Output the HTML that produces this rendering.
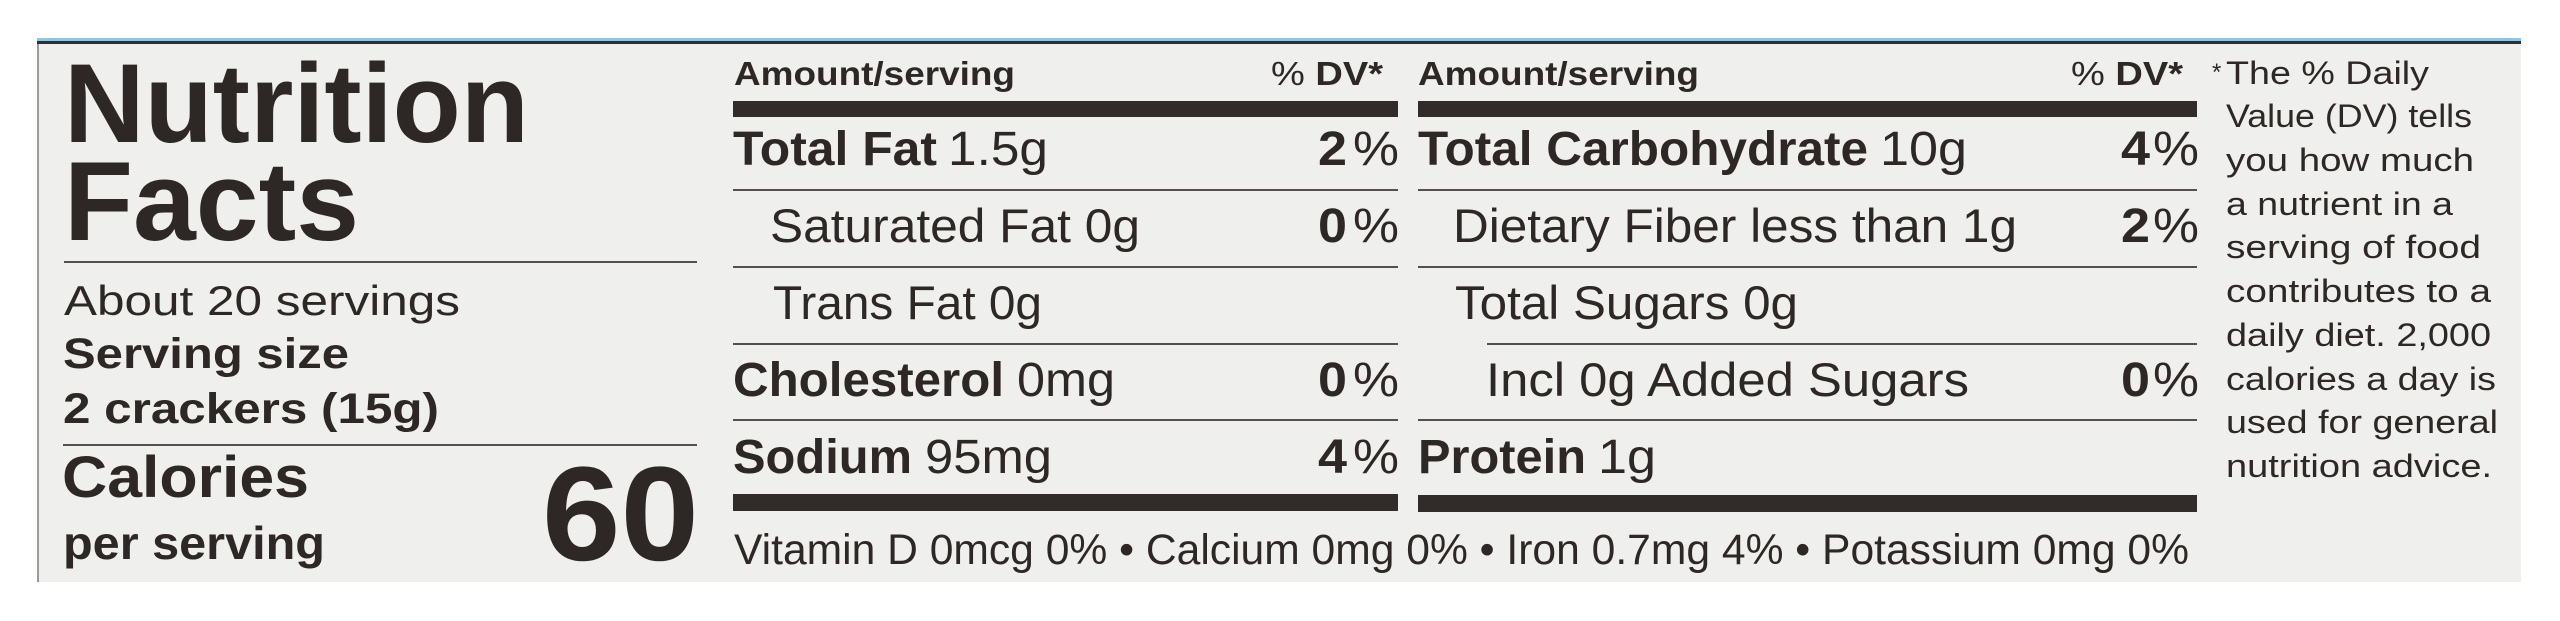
<!DOCTYPE html>
<html>
<head>
<meta charset="utf-8">
<style>
  html, body { margin:0; padding:0; background:#ffffff; }
  body { width:2560px; height:621px; overflow:hidden; }
  svg { display:block; }
  text { font-family: "Liberation Sans", Arial, sans-serif; fill:#2d2825; }
  .b { font-weight:bold; }
</style>
</head>
<body>
<svg width="2560" height="621" viewBox="0 0 2560 621" xmlns="http://www.w3.org/2000/svg">
  <!-- background -->
  <rect x="0" y="0" width="2560" height="621" fill="#ffffff"/>
  <!-- panel -->
  <rect x="38" y="43" width="2483" height="539" fill="#efefed"/>
  <rect x="37" y="43" width="2" height="539" fill="#9a9a9a"/>
  <!-- top border -->
  <rect x="37" y="38" width="2484" height="3" fill="#8cc8ea"/>
  <rect x="37" y="41" width="2484" height="3" fill="#2a303a"/>

  <!-- LEFT COLUMN -->
  <text class="b" x="64" y="142" font-size="112" textLength="465" lengthAdjust="spacingAndGlyphs">Nutrition</text>
  <text class="b" x="64" y="240" font-size="112" textLength="295" lengthAdjust="spacingAndGlyphs">Facts</text>
  <rect x="64" y="261" width="633" height="2" fill="#55504d"/>
  <text x="64" y="315" font-size="42" textLength="396" lengthAdjust="spacingAndGlyphs">About 20 servings</text>
  <text class="b" x="63" y="368" font-size="43" textLength="286" lengthAdjust="spacingAndGlyphs">Serving size</text>
  <text class="b" x="63" y="423" font-size="43" textLength="376" lengthAdjust="spacingAndGlyphs">2 crackers (15g)</text>
  <rect x="63" y="444" width="634" height="2" fill="#55504d"/>
  <text class="b" x="62" y="497" font-size="58" textLength="247" lengthAdjust="spacingAndGlyphs">Calories</text>
  <text class="b" x="63" y="559" font-size="46" textLength="262" lengthAdjust="spacingAndGlyphs">per serving</text>
  <text class="b" x="542" y="560" font-size="134" textLength="157" lengthAdjust="spacingAndGlyphs">60</text>

  <!-- COLUMN 1 -->
  <text x="734" y="85" font-size="33" class="b" textLength="281" lengthAdjust="spacingAndGlyphs">Amount/serving</text>
  <text x="1271" y="85" font-size="33" textLength="112" lengthAdjust="spacingAndGlyphs"><tspan>% </tspan><tspan font-weight="bold">DV*</tspan></text>
  <rect x="733" y="101" width="665" height="16" fill="#312c29"/>

  <text class="b" x="733" y="165" font-size="48" textLength="204" lengthAdjust="spacingAndGlyphs">Total Fat</text>
  <text x="948" y="165" font-size="48" textLength="100" lengthAdjust="spacingAndGlyphs">1.5g</text>
  <text class="b" x="1318" y="165" font-size="48" textLength="29" lengthAdjust="spacingAndGlyphs">2</text>
  <text x="1353" y="165" font-size="48" textLength="46" lengthAdjust="spacingAndGlyphs">%</text>
  <rect x="733" y="189" width="665" height="2" fill="#55504d"/>

  <text x="770" y="242" font-size="47" textLength="370" lengthAdjust="spacingAndGlyphs">Saturated Fat 0g</text>
  <text class="b" x="1318" y="242" font-size="48" textLength="29" lengthAdjust="spacingAndGlyphs">0</text>
  <text x="1353" y="242" font-size="48" textLength="46" lengthAdjust="spacingAndGlyphs">%</text>
  <rect x="733" y="266" width="665" height="2" fill="#55504d"/>

  <text x="773" y="319" font-size="47" textLength="269" lengthAdjust="spacingAndGlyphs">Trans Fat 0g</text>
  <rect x="733" y="343" width="665" height="2" fill="#55504d"/>

  <text class="b" x="733" y="396" font-size="48" textLength="271" lengthAdjust="spacingAndGlyphs">Cholesterol</text>
  <text x="1017" y="396" font-size="48" textLength="98" lengthAdjust="spacingAndGlyphs">0mg</text>
  <text class="b" x="1318" y="396" font-size="48" textLength="29" lengthAdjust="spacingAndGlyphs">0</text>
  <text x="1353" y="396" font-size="48" textLength="46" lengthAdjust="spacingAndGlyphs">%</text>
  <rect x="733" y="419" width="665" height="2" fill="#55504d"/>

  <text class="b" x="733" y="473" font-size="48" textLength="179" lengthAdjust="spacingAndGlyphs">Sodium</text>
  <text x="925" y="473" font-size="48" textLength="127" lengthAdjust="spacingAndGlyphs">95mg</text>
  <text class="b" x="1318" y="473" font-size="48" textLength="29" lengthAdjust="spacingAndGlyphs">4</text>
  <text x="1353" y="473" font-size="48" textLength="46" lengthAdjust="spacingAndGlyphs">%</text>
  <rect x="733" y="494" width="665" height="17" fill="#312c29"/>

  <!-- COLUMN 2 -->
  <text x="1418" y="85" font-size="33" class="b" textLength="281" lengthAdjust="spacingAndGlyphs">Amount/serving</text>
  <text x="2071" y="85" font-size="33" textLength="112" lengthAdjust="spacingAndGlyphs"><tspan>% </tspan><tspan font-weight="bold">DV*</tspan></text>
  <rect x="1418" y="101" width="779" height="16" fill="#312c29"/>

  <text class="b" x="1418" y="165" font-size="48" textLength="450" lengthAdjust="spacingAndGlyphs">Total Carbohydrate</text>
  <text x="1880" y="165" font-size="48" textLength="87" lengthAdjust="spacingAndGlyphs">10g</text>
  <text class="b" x="2121" y="165" font-size="48" textLength="29" lengthAdjust="spacingAndGlyphs">4</text>
  <text x="2153" y="165" font-size="48" textLength="46" lengthAdjust="spacingAndGlyphs">%</text>
  <rect x="1418" y="189" width="779" height="2" fill="#55504d"/>

  <text x="1453" y="242" font-size="47" textLength="564" lengthAdjust="spacingAndGlyphs">Dietary Fiber less than 1g</text>
  <text class="b" x="2121" y="242" font-size="48" textLength="29" lengthAdjust="spacingAndGlyphs">2</text>
  <text x="2153" y="242" font-size="48" textLength="46" lengthAdjust="spacingAndGlyphs">%</text>
  <rect x="1418" y="266" width="779" height="2" fill="#55504d"/>

  <text x="1455" y="319" font-size="47" textLength="343" lengthAdjust="spacingAndGlyphs">Total Sugars 0g</text>
  <rect x="1487" y="343" width="710" height="2" fill="#55504d"/>

  <text x="1486" y="396" font-size="47" textLength="483" lengthAdjust="spacingAndGlyphs">Incl 0g Added Sugars</text>
  <text class="b" x="2121" y="396" font-size="48" textLength="29" lengthAdjust="spacingAndGlyphs">0</text>
  <text x="2153" y="396" font-size="48" textLength="46" lengthAdjust="spacingAndGlyphs">%</text>
  <rect x="1418" y="419" width="779" height="2" fill="#55504d"/>

  <text class="b" x="1418" y="473" font-size="48" textLength="168" lengthAdjust="spacingAndGlyphs">Protein</text>
  <text x="1598" y="473" font-size="48" textLength="58" lengthAdjust="spacingAndGlyphs">1g</text>
  <rect x="1418" y="495" width="779" height="17" fill="#312c29"/>

  <!-- vitamins line -->
  <text x="734" y="564" font-size="43" textLength="1455" lengthAdjust="spacingAndGlyphs">Vitamin D 0mcg 0% • Calcium 0mg 0% • Iron 0.7mg 4% • Potassium 0mg 0%</text>

  <!-- FOOTNOTE -->
  <text x="2212" y="80" font-size="24">*</text>
  <text x="2226" y="84" font-size="32" textLength="203" lengthAdjust="spacingAndGlyphs">The % Daily</text>
  <text x="2226" y="127" font-size="32" textLength="246" lengthAdjust="spacingAndGlyphs">Value (DV) tells</text>
  <text x="2226" y="171" font-size="32" textLength="248" lengthAdjust="spacingAndGlyphs">you how much</text>
  <text x="2226" y="215" font-size="32" textLength="227" lengthAdjust="spacingAndGlyphs">a nutrient in a</text>
  <text x="2226" y="258" font-size="32" textLength="255" lengthAdjust="spacingAndGlyphs">serving of food</text>
  <text x="2226" y="302" font-size="32" textLength="265" lengthAdjust="spacingAndGlyphs">contributes to a</text>
  <text x="2226" y="346" font-size="32" textLength="265" lengthAdjust="spacingAndGlyphs">daily diet. 2,000</text>
  <text x="2226" y="390" font-size="32" textLength="270" lengthAdjust="spacingAndGlyphs">calories a day is</text>
  <text x="2226" y="433" font-size="32" textLength="272" lengthAdjust="spacingAndGlyphs">used for general</text>
  <text x="2226" y="477" font-size="32" textLength="266" lengthAdjust="spacingAndGlyphs">nutrition advice.</text>
</svg>
</body>
</html>
